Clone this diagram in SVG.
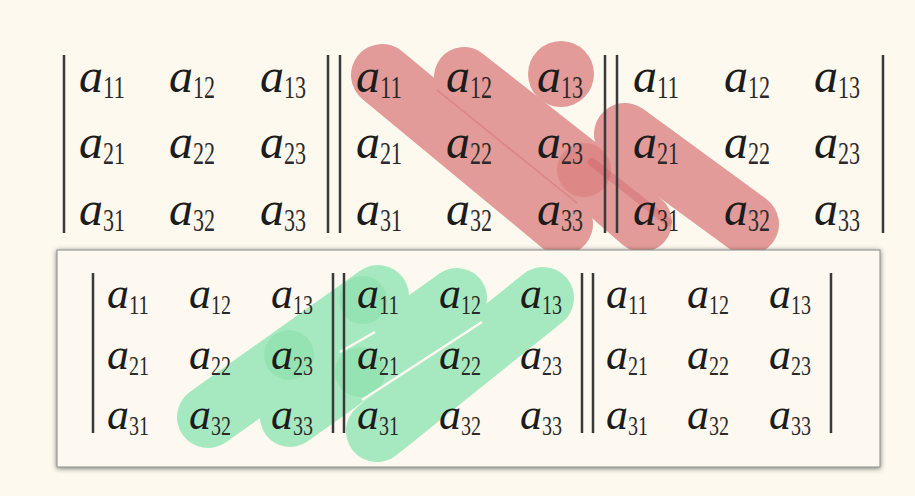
<svg xmlns="http://www.w3.org/2000/svg" width="915" height="496" viewBox="0 0 915 496">
<defs>
<style>
.a{font-family:"Liberation Serif","Times New Roman",serif;font-style:italic;font-size:48px;fill:#1c1c1c}
.s{font-family:"Liberation Serif","Times New Roman",serif;font-size:31px;fill:#2a2a2a}
.ab{font-family:"Liberation Serif","Times New Roman",serif;font-style:italic;font-size:44px;fill:#1c1c1c}
.sb{font-family:"Liberation Serif","Times New Roman",serif;font-size:28px;fill:#2a2a2a}
.bar{stroke:#3a3a3a;stroke-width:2.5;fill:none}
.red{stroke:#e29b98;fill:none;stroke-linecap:round;stroke-linejoin:round}
.grn{stroke:#a6e9c0;fill:none;stroke-linecap:round;stroke-linejoin:round}
</style>
<filter id="sh" x="-5%" y="-10%" width="110%" height="120%">
<feDropShadow dx="0" dy="1" stdDeviation="2.5" flood-color="#000" flood-opacity="0.55"/>
</filter>
</defs>
<rect width="915" height="496" fill="#fdf9ef"/>

<g id="red-strokes">
<path class="red" stroke-width="62" d="M382,75 L562,224"/>
<path class="red" stroke-width="60" d="M464,77 L580,168 L642,222"/>
<circle cx="561" cy="74" r="33" fill="#e29b98"/>
<path class="red" stroke-width="62" d="M625,134 L748,224"/>
<circle cx="584" cy="170" r="27" fill="#cf5a60" fill-opacity="0.3"/>
<path d="M592,162 L668,222" stroke="#cf5a60" stroke-opacity="0.35" stroke-width="8" stroke-linecap="round"/>
<path d="M437,90 L577,203" stroke="#cf5a60" stroke-opacity="0.35" stroke-width="1.5"/>
</g>

<g id="top-det-1">
<path class="bar" d="M64,55 V233 M328,55 V233"/>
<text class="a" x="79" y="92">a</text><text class="s" x="103" y="98" textLength="22" lengthAdjust="spacingAndGlyphs">11</text>
<text class="a" x="169" y="92">a</text><text class="s" x="193" y="98" textLength="22" lengthAdjust="spacingAndGlyphs">12</text>
<text class="a" x="260" y="92">a</text><text class="s" x="284" y="98" textLength="22" lengthAdjust="spacingAndGlyphs">13</text>
<text class="a" x="79" y="158">a</text><text class="s" x="103" y="164" textLength="22" lengthAdjust="spacingAndGlyphs">21</text>
<text class="a" x="169" y="158">a</text><text class="s" x="193" y="164" textLength="22" lengthAdjust="spacingAndGlyphs">22</text>
<text class="a" x="260" y="158">a</text><text class="s" x="284" y="164" textLength="22" lengthAdjust="spacingAndGlyphs">23</text>
<text class="a" x="79" y="225">a</text><text class="s" x="103" y="231" textLength="22" lengthAdjust="spacingAndGlyphs">31</text>
<text class="a" x="169" y="225">a</text><text class="s" x="193" y="231" textLength="22" lengthAdjust="spacingAndGlyphs">32</text>
<text class="a" x="260" y="225">a</text><text class="s" x="284" y="231" textLength="22" lengthAdjust="spacingAndGlyphs">33</text>
</g>

<g id="top-det-2">
<path class="bar" d="M340,55 V233 M605,55 V233"/>
<text class="a" x="356" y="92">a</text><text class="s" x="380" y="98" textLength="22" lengthAdjust="spacingAndGlyphs">11</text>
<text class="a" x="446" y="92">a</text><text class="s" x="470" y="98" textLength="22" lengthAdjust="spacingAndGlyphs">12</text>
<text class="a" x="537" y="92">a</text><text class="s" x="561" y="98" textLength="22" lengthAdjust="spacingAndGlyphs">13</text>
<text class="a" x="356" y="158">a</text><text class="s" x="380" y="164" textLength="22" lengthAdjust="spacingAndGlyphs">21</text>
<text class="a" x="446" y="158">a</text><text class="s" x="470" y="164" textLength="22" lengthAdjust="spacingAndGlyphs">22</text>
<text class="a" x="537" y="158">a</text><text class="s" x="561" y="164" textLength="22" lengthAdjust="spacingAndGlyphs">23</text>
<text class="a" x="356" y="225">a</text><text class="s" x="380" y="231" textLength="22" lengthAdjust="spacingAndGlyphs">31</text>
<text class="a" x="446" y="225">a</text><text class="s" x="470" y="231" textLength="22" lengthAdjust="spacingAndGlyphs">32</text>
<text class="a" x="537" y="225">a</text><text class="s" x="561" y="231" textLength="22" lengthAdjust="spacingAndGlyphs">33</text>
</g>

<g id="top-det-3">
<path class="bar" d="M617,55 V233 M883,55 V233"/>
<text class="a" x="633" y="92">a</text><text class="s" x="657" y="98" textLength="22" lengthAdjust="spacingAndGlyphs">11</text>
<text class="a" x="724" y="92">a</text><text class="s" x="748" y="98" textLength="22" lengthAdjust="spacingAndGlyphs">12</text>
<text class="a" x="814" y="92">a</text><text class="s" x="838" y="98" textLength="22" lengthAdjust="spacingAndGlyphs">13</text>
<text class="a" x="633" y="158">a</text><text class="s" x="657" y="164" textLength="22" lengthAdjust="spacingAndGlyphs">21</text>
<text class="a" x="724" y="158">a</text><text class="s" x="748" y="164" textLength="22" lengthAdjust="spacingAndGlyphs">22</text>
<text class="a" x="814" y="158">a</text><text class="s" x="838" y="164" textLength="22" lengthAdjust="spacingAndGlyphs">23</text>
<text class="a" x="633" y="225">a</text><text class="s" x="657" y="231" textLength="22" lengthAdjust="spacingAndGlyphs">31</text>
<text class="a" x="724" y="225">a</text><text class="s" x="748" y="231" textLength="22" lengthAdjust="spacingAndGlyphs">32</text>
<text class="a" x="814" y="225">a</text><text class="s" x="838" y="231" textLength="22" lengthAdjust="spacingAndGlyphs">33</text>
</g>

<g id="bottom-box">
<rect x="57" y="250" width="823" height="217" fill="#fdf9f0" stroke="#8a8a8a" stroke-width="1" filter="url(#sh)"/>
</g>

<g id="green-strokes">
<path class="grn" stroke-width="62" d="M208,417 L378,296"/>
<path class="grn" stroke-width="60" d="M290,417 L457,298"/>
<path class="grn" stroke-width="62" d="M377,431 L543,298"/>
<circle cx="363" cy="300" r="24" fill="#8fdfac" fill-opacity="0.7"/>
<circle cx="289" cy="355" r="25" fill="#8fdfac" fill-opacity="0.7"/>
<circle cx="360" cy="372" r="25" fill="#8fdfac" fill-opacity="0.7"/>
<path d="M340,352 L375,332" stroke="#fdf9f0" stroke-width="2.5"/>
<path d="M362,400 L482,322" stroke="#fdf9f0" stroke-width="2.5"/>
</g>

<g id="bottom-det-1">
<path class="bar" d="M93,273 V433 M333,273 V433"/>
<text class="ab" x="107" y="308">a</text><text class="sb" x="129" y="314" textLength="20" lengthAdjust="spacingAndGlyphs">11</text>
<text class="ab" x="189" y="308">a</text><text class="sb" x="211" y="314" textLength="20" lengthAdjust="spacingAndGlyphs">12</text>
<text class="ab" x="271" y="308">a</text><text class="sb" x="293" y="314" textLength="20" lengthAdjust="spacingAndGlyphs">13</text>
<text class="ab" x="107" y="369">a</text><text class="sb" x="129" y="375" textLength="20" lengthAdjust="spacingAndGlyphs">21</text>
<text class="ab" x="189" y="369">a</text><text class="sb" x="211" y="375" textLength="20" lengthAdjust="spacingAndGlyphs">22</text>
<text class="ab" x="271" y="369">a</text><text class="sb" x="293" y="375" textLength="20" lengthAdjust="spacingAndGlyphs">23</text>
<text class="ab" x="107" y="429">a</text><text class="sb" x="129" y="435" textLength="20" lengthAdjust="spacingAndGlyphs">31</text>
<text class="ab" x="189" y="429">a</text><text class="sb" x="211" y="435" textLength="20" lengthAdjust="spacingAndGlyphs">32</text>
<text class="ab" x="271" y="429">a</text><text class="sb" x="293" y="435" textLength="20" lengthAdjust="spacingAndGlyphs">33</text>
</g>

<g id="bottom-det-2">
<path class="bar" d="M344,273 V433 M582,273 V433"/>
<text class="ab" x="357" y="308">a</text><text class="sb" x="379" y="314" textLength="20" lengthAdjust="spacingAndGlyphs">11</text>
<text class="ab" x="439" y="308">a</text><text class="sb" x="461" y="314" textLength="20" lengthAdjust="spacingAndGlyphs">12</text>
<text class="ab" x="520" y="308">a</text><text class="sb" x="542" y="314" textLength="20" lengthAdjust="spacingAndGlyphs">13</text>
<text class="ab" x="357" y="369">a</text><text class="sb" x="379" y="375" textLength="20" lengthAdjust="spacingAndGlyphs">21</text>
<text class="ab" x="439" y="369">a</text><text class="sb" x="461" y="375" textLength="20" lengthAdjust="spacingAndGlyphs">22</text>
<text class="ab" x="520" y="369">a</text><text class="sb" x="542" y="375" textLength="20" lengthAdjust="spacingAndGlyphs">23</text>
<text class="ab" x="357" y="429">a</text><text class="sb" x="379" y="435" textLength="20" lengthAdjust="spacingAndGlyphs">31</text>
<text class="ab" x="439" y="429">a</text><text class="sb" x="461" y="435" textLength="20" lengthAdjust="spacingAndGlyphs">32</text>
<text class="ab" x="520" y="429">a</text><text class="sb" x="542" y="435" textLength="20" lengthAdjust="spacingAndGlyphs">33</text>
</g>

<g id="bottom-det-3">
<path class="bar" d="M593,273 V433 M831,273 V433"/>
<text class="ab" x="606" y="308">a</text><text class="sb" x="628" y="314" textLength="20" lengthAdjust="spacingAndGlyphs">11</text>
<text class="ab" x="687" y="308">a</text><text class="sb" x="709" y="314" textLength="20" lengthAdjust="spacingAndGlyphs">12</text>
<text class="ab" x="769" y="308">a</text><text class="sb" x="791" y="314" textLength="20" lengthAdjust="spacingAndGlyphs">13</text>
<text class="ab" x="606" y="369">a</text><text class="sb" x="628" y="375" textLength="20" lengthAdjust="spacingAndGlyphs">21</text>
<text class="ab" x="687" y="369">a</text><text class="sb" x="709" y="375" textLength="20" lengthAdjust="spacingAndGlyphs">22</text>
<text class="ab" x="769" y="369">a</text><text class="sb" x="791" y="375" textLength="20" lengthAdjust="spacingAndGlyphs">23</text>
<text class="ab" x="606" y="429">a</text><text class="sb" x="628" y="435" textLength="20" lengthAdjust="spacingAndGlyphs">31</text>
<text class="ab" x="687" y="429">a</text><text class="sb" x="709" y="435" textLength="20" lengthAdjust="spacingAndGlyphs">32</text>
<text class="ab" x="769" y="429">a</text><text class="sb" x="791" y="435" textLength="20" lengthAdjust="spacingAndGlyphs">33</text>
</g>
</svg>
